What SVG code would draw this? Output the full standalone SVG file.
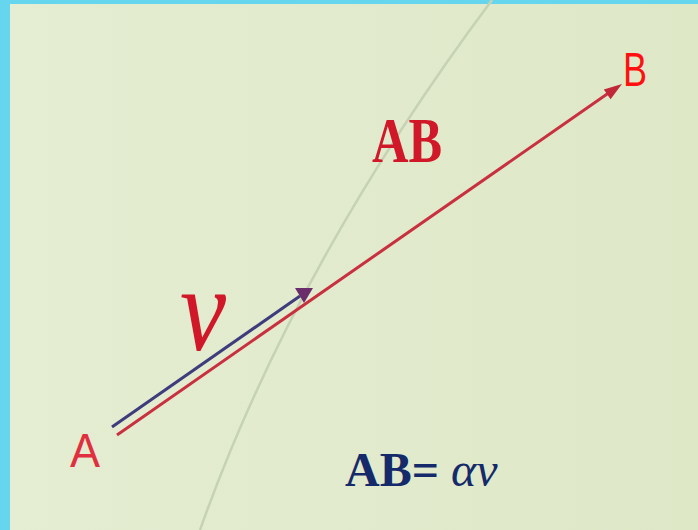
<svg xmlns="http://www.w3.org/2000/svg" width="698" height="530" viewBox="0 0 698 530">
  <defs>
    <linearGradient id="bg" x1="0" y1="0" x2="1" y2="0">
      <stop offset="0" stop-color="#e5edd2"/>
      <stop offset="1" stop-color="#dee8c7"/>
    </linearGradient>
    <style>
      .lbl { font-family: "Liberation Sans", Arial, sans-serif; fill: #ff1010; }
      .serif { font-family: "Liberation Serif", "Times New Roman", serif; }
    </style>
  </defs>
  <rect x="0" y="0" width="698" height="530" fill="url(#bg)"/>
  <rect x="0" y="0" width="10" height="530" fill="#66d6ee"/>
  <rect x="0" y="0" width="698" height="4" fill="#66d6ee"/>

  <!-- trajectory curve -->
  <path d="M492,0 Q294,265 200,530" fill="none" stroke="#c6d2b4" stroke-width="2.5"/>

  <g id="connectors">
    <line x1="112" y1="427" x2="300" y2="296" stroke="#3e3c7c" stroke-width="3"/>
    <polygon points="295,288 313,288 304,303" fill="#6a2c6a"/>
    <line x1="117" y1="435" x2="610" y2="92" stroke="#c83040" stroke-width="3"/>
    <polygon points="622,84 610.6,99.2 603.8,89.4" fill="#c02838"/>
  </g>

  <g id="label-A"><text class="lbl" x="70" y="467" font-size="48" style="fill:#e03040" textLength="30" lengthAdjust="spacingAndGlyphs">A</text></g>
  <g id="label-B"><text class="lbl" x="623" y="86" font-size="48" textLength="24" lengthAdjust="spacingAndGlyphs">B</text></g>
  <g id="label-AB">
    <text class="serif" x="372" y="162" font-size="48" font-weight="bold" fill="#d01828" textLength="70" lengthAdjust="spacingAndGlyphs" transform="translate(0,162) scale(1,1.3) translate(0,-162)">AB</text>
  </g>
  <g id="label-v">
    <text class="serif" x="180" y="350" font-size="96" font-style="italic" fill="#d01828" textLength="46" lengthAdjust="spacingAndGlyphs" transform="translate(0,350) scale(1,1.25) translate(0,-350)">v</text>
  </g>
  <g id="formula">
    <text class="serif" x="345" y="486" font-size="48" fill="#142a6a"><tspan font-weight="bold">AB=</tspan><tspan font-style="italic" font-weight="normal"> αv</tspan></text>
  </g>
</svg>
